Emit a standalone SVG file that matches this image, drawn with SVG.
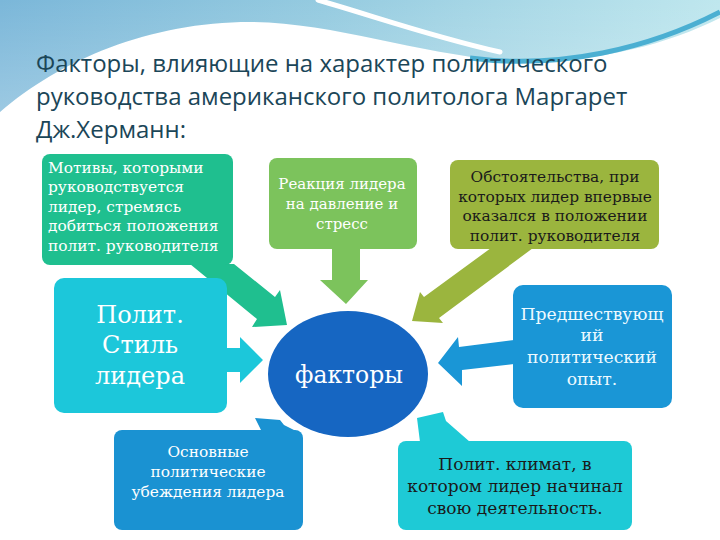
<svg xmlns="http://www.w3.org/2000/svg" width="720" height="540" viewBox="0 0 720 540">
  <defs>
    <linearGradient id="hdr" x1="0" y1="0" x2="1" y2="0">
      <stop offset="0" stop-color="#7bb7d9"/>
      <stop offset="0.45" stop-color="#95cbe0"/>
      <stop offset="1" stop-color="#bfe7ee"/>
    </linearGradient>
    <linearGradient id="hdr2" x1="0" y1="0" x2="0" y2="1">
      <stop offset="0" stop-color="#ffffff" stop-opacity="0"/>
      <stop offset="1" stop-color="#ffffff" stop-opacity="0.25"/>
    </linearGradient>
    <style>
      .title { font-family: "Open Sans", "Noto Sans", sans-serif; font-size: 24px; fill: #1b4658; }
      .t { font-family: "DejaVu Serif", "Liberation Serif", serif; font-size: 15.4px; }
      .w { fill: #ffffff; }
      .d { fill: #1a1a1a; }
      .c { text-anchor: middle; }
    </style>
  </defs>

  <rect x="0" y="0" width="720" height="540" fill="#ffffff"/>

  <g id="header">
    <path d="M0,0 H720 V18 C660,48 580,66 500,60 C420,54 330,22 250,22 C150,22 60,60 0,112 Z" fill="url(#hdr)"/>
    <path d="M0,0 H720 V18 C660,48 580,66 500,60 C420,54 330,22 250,22 C150,22 60,60 0,112 Z" fill="url(#hdr2)"/>
    <path d="M318,0 C380,18 430,36 500,52" fill="none" stroke="#ffffff" stroke-width="5" stroke-linecap="round"/>
    <path d="M470,58 C560,70 650,48 720,12" fill="none" stroke="#4bafd2" stroke-width="5"/>
  </g>

  <g id="title">
    <text class="title" x="36" y="72">Факторы, влияющие на характер политического</text>
    <text class="title" x="36" y="105">руководства американского политолога Маргарет</text>
    <text class="title" x="36" y="138">Дж.Херманн:</text>
  </g>

  <g id="connectors">
    <polygon points="190,264 234,264 275,297 280,290 287,325 252,327 257,319" fill="#1fbf8f"/>
    <polygon points="332,248 360,248 360,280 368,280 346,304 320,280 332,280" fill="#7cc35c"/>
    <polygon points="491,248 533,248 439,318 443,323 412,321 420,292 424,297" fill="#9bb53e"/>
    <polygon points="225,348 240,348 240,337 263,360 240,383 240,372 225,372" fill="#1cc7da"/>
    <polygon points="514,340 459,347 458,337 438,363 462,386 462,370 514,364" fill="#1a96d6"/>
    <polygon points="262,432 255,418 280,420 284,425 298,432" fill="#1a92d2"/>
    <polygon points="420,442 417,418 443,412 446,421 470,442" fill="#1ecad6"/>
  </g>

  <g id="motives">
    <rect x="42" y="154" width="191" height="111" rx="8" fill="#1fbf8f"/>
    <text class="t w" x="48" y="173">Мотивы, которыми</text>
    <text class="t w" x="48" y="192">руководствуется</text>
    <text class="t w" x="48" y="212">лидер, стремясь</text>
    <text class="t w" x="48" y="231">добиться положения</text>
    <text class="t w" x="48" y="251">полит. руководителя</text>
  </g>

  <g id="reaction">
    <rect x="269" y="158" width="148" height="91" rx="8" fill="#7cc35c"/>
    <text class="t w c" x="342" y="189" style="font-size:15px">Реакция лидера</text>
    <text class="t w c" x="342" y="209" style="font-size:15px">на давление и</text>
    <text class="t w c" x="342" y="229" style="font-size:15px">стресс</text>
  </g>

  <g id="circumstances">
    <rect x="450" y="160" width="209" height="89" rx="8" fill="#9bb53e"/>
    <text class="t d c" x="555" y="182">Обстоятельства, при</text>
    <text class="t d c" x="555" y="202">которых лидер впервые</text>
    <text class="t d c" x="555" y="221">оказался в положении</text>
    <text class="t d c" x="555" y="241">полит. руководителя</text>
  </g>

  <g id="style">
    <rect x="54" y="278" width="173" height="135" rx="10" fill="#1cc7da"/>
    <text class="t w c" x="140" y="323" style="font-size:24px">Полит.</text>
    <text class="t w c" x="140" y="353" style="font-size:24px">Стиль</text>
    <text class="t w c" x="140" y="384" style="font-size:24px">лидера</text>
  </g>

  <g id="factors">
    <ellipse cx="348" cy="374" rx="80" ry="63" fill="#1666c2"/>
    <text class="t w c" x="349" y="383" style="font-size:23.5px">факторы</text>
  </g>

  <g id="experience">
    <rect x="513" y="285" width="159" height="123" rx="10" fill="#1a96d6"/>
    <text class="t c" x="592" y="320" style="font-size:17.2px;fill:#eefaff">Предшествующ</text>
    <text class="t c" x="592" y="341" style="font-size:17.2px;fill:#eefaff">ий</text>
    <text class="t c" x="592" y="363" style="font-size:17.2px;fill:#eefaff">политический</text>
    <text class="t c" x="592" y="385" style="font-size:17.2px;fill:#eefaff">опыт.</text>
  </g>

  <g id="beliefs">
    <rect x="114" y="430" width="189" height="100" rx="8" fill="#1a92d2"/>
    <text class="t w c" x="208" y="457">Основные</text>
    <text class="t w c" x="208" y="477">политические</text>
    <text class="t w c" x="208" y="497">убеждения лидера</text>
  </g>

  <g id="climate">
    <rect x="398" y="441" width="234" height="89" rx="8" fill="#1ecad6"/>
    <text class="t d c" x="515" y="470" style="font-size:17px">Полит. климат, в</text>
    <text class="t d c" x="515" y="492" style="font-size:17px">котором лидер начинал</text>
    <text class="t d c" x="515" y="514" style="font-size:17px">свою деятельность.</text>
  </g>
</svg>
